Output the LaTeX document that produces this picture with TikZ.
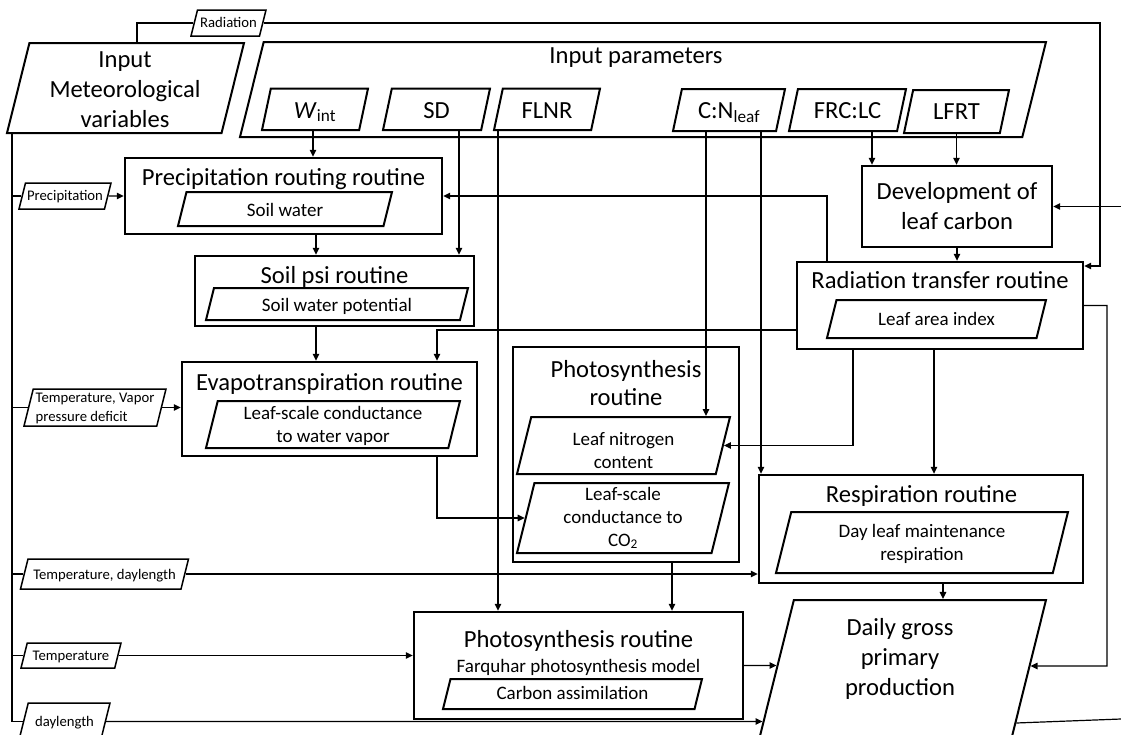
\documentclass[tikz,border=0pt]{standalone}
\usepackage{fontspec}
\setmainfont{Carlito}
\usetikzlibrary{arrows.meta,shapes.geometric}

\tikzset{
  rbox/.style={draw, line width=2.4pt, inner sep=0pt},
  para/.style={draw, trapezium, trapezium left angle=76, trapezium right angle=104, trapezium stretches body, inner sep=0pt},
  ph/.style 2 args={text height=#1pt, text depth=#2pt},
  inpara/.style={para, line width=2pt, font=\fontsize{19}{23}\selectfont},
  parbox/.style={para, line width=2pt, trapezium left angle=78, trapezium right angle=102, anchor=base, font=\fontsize{24.6}{29}\selectfont},
  lab/.style={para, line width=1.5pt, font=\fontsize{14.7}{18}\selectfont},
  ttl/.style={anchor=base, font=\fontsize{24.6}{29}\selectfont},
  intxt/.style={align=center, font=\fontsize{19}{23}\selectfont},
  bigtxt/.style={align=center, font=\fontsize{24.6}{30}\selectfont},
  conn/.style={line width=1.2pt},
  arr/.style={conn, -{Triangle[length=7pt,width=6.5pt]}},
}

\begin{document}
\begin{tikzpicture}[x=1pt, y=-1pt]
  \useasboundingbox (0,0) rectangle (1121,734);
  \clip (0,0) rectangle (1121,734);

  \node[para, line width=2pt, ph={45}{45}, minimum width=237] (inputmet) at (125.5,88) {};
  \node[bigtxt] (inputmettxt) at (125,90) {Input\\Meteorological\\variables};
  \node[para, line width=2pt, ph={47.5}{47.5}, minimum width=806] (inputpar) at (643,89.5) {};
  \node[ttl] (inputpartxt) at (636,63) {Input parameters};

  \node[parbox, ph={29.5}{12}, minimum width=106] (wint) at (315,118) {\textit{W}\textsubscript{int}};
  \node[parbox, ph={29.5}{12}, minimum width=107] (sd) at (436.5,118) {SD};
  \node[parbox, ph={29.5}{12}, minimum width=106] (flnr) at (547,118) {FLNR};
  \node[parbox, ph={29.5}{12.5}, minimum width=112] (cn) at (729,118.5) {C:N\textsubscript{leaf}};
  \node[parbox, ph={29.5}{12.5}, minimum width=117] (frc) at (847.5,118.5) {FRC:LC};
  \node[parbox, ph={29.5}{13.5}, minimum width=105] (lfrt) at (956.5,119.5) {LFRT};

  \node[lab, ph={17}{9}, anchor=base, minimum width=75] (radlab) at (228.5,27) {Radiation};
  \node[lab, ph={17}{9}, anchor=base, minimum width=92] (preclab) at (65,200) {Precipitation};
  \node[lab, ph={18.5}{18.5}, minimum width=142] (tvplab) at (95,407.5) {};
  \node[align=left, font=\fontsize{14.7}{19}\selectfont] (tvptxt) at (95,408.5) {Temperature, Vapor\\pressure deficit};
  \node[lab, ph={20}{10}, anchor=base, minimum width=168] (tdlab) at (104.5,579) {Temperature, daylength};
  \node[lab, ph={17}{8}, anchor=base, minimum width=100] (templab) at (71,660) {Temperature};
  \node[lab, ph={23}{14}, anchor=base, minimum width=91] (dllab) at (64.5,726) {daylength};

  \node[rbox, minimum width=317, minimum height=76] (precip) at (283.5,196) {};
  \node[ttl] (preciptxt) at (283.5,185) {Precipitation routing routine};
  \node[inpara, ph={24}{10}, anchor=base, minimum width=214] (soilw) at (285,216) {Soil water};

  \node[rbox, minimum width=279, minimum height=70] (soilpsi) at (334.5,291) {};
  \node[ttl] (soilpsitxt) at (334.5,283) {Soil psi routine};
  \node[inpara, ph={23}{9}, anchor=base, minimum width=262] (soilpot) at (337,311) {Soil water potential};

  \node[rbox, minimum width=295, minimum height=94] (evapo) at (329.5,409) {};
  \node[ttl] (evapotxt) at (329.5,390) {Evapotranspiration routine};
  \node[inpara, ph={23.5}{23.5}, minimum width=254] (lscw) at (333,424.5) {};
  \node[intxt] (lscwtxt) at (333,425.5) {Leaf-scale conductance\\to water vapor};

  \node[rbox, minimum width=190, minimum height=81, bigtxt] (dev) at (957,206.5) {Development of\\leaf carbon};

  \node[rbox, minimum width=286, minimum height=87] (radtr) at (940,305.5) {};
  \node[ttl] (radtrtxt) at (940,288) {Radiation transfer routine};
  \node[inpara, ph={25}{13}, anchor=base, minimum width=219] (lai) at (936.5,325) {Leaf area index};

  \node[rbox, minimum width=226, minimum height=215] (photomid) at (626,454.5) {};
  \node[bigtxt, font=\fontsize{24.6}{28}\selectfont] (photomidtxt) at (626,383.5) {Photosynthesis\\routine};
  \node[inpara, ph={28.5}{28.5}, minimum width=213] (lnc) at (623.5,445.5) {};
  \node[intxt] (lnctxt) at (623.5,451) {Leaf nitrogen\\content};
  \node[inpara, ph={35}{35}, minimum width=212] (lsco2) at (623,518) {};
  \node[intxt] (lsco2txt) at (623,518) {Leaf-scale\\conductance to\\CO\textsubscript{2}};

  \node[rbox, minimum width=329, minimum height=107] (photolow) at (578.5,665.5) {};
  \node[ttl] (photolowtxt) at (578.5,647) {Photosynthesis routine};
  \node[anchor=base, font=\fontsize{19}{23}\selectfont] (farq) at (578.5,672) {Farquhar photosynthesis model};
  \node[inpara, ph={20}{10}, anchor=base, minimum width=259] (carb) at (572.5,699) {Carbon assimilation};

  \node[rbox, minimum width=324, minimum height=108] (resp) at (921,529) {};
  \node[ttl] (resptxt) at (921.5,502) {Respiration routine};
  \node[inpara, ph={30.5}{30.5}, minimum width=292] (dlmr) at (922,542.5) {};
  \node[intxt] (dlmrtxt) at (922,544) {Day leaf maintenance\\respiration};

  \node[para, line width=2pt, ph={90}{90}, minimum width=297] (gpp) at (897.5,690) {};
  \node[bigtxt] (gpptxt) at (900,659) {Daily gross\\primary\\production};

  \coordinate (trunk) at (12,133);
  \coordinate (rbend) at (1100,266);
  \coordinate (rbend2) at (1107,666);
  \coordinate (devin) at (1121,206.5);
  \coordinate (gppout) at (1121,719);

  \draw[conn] (radlab.west) -| (137,0 |- inputmet.north);
  \draw[arr] (radlab.east) -| (rbend) -- (rbend -| radtr.east);
  \draw[conn] (trunk) |- (dllab.west);
  \draw[conn] (trunk |- preclab.west) -- (preclab.west);
  \draw[conn] (trunk |- tvplab.west) -- (tvplab.west);
  \draw[conn] (trunk |- tdlab.west) -- (tdlab.west);
  \draw[conn] (trunk |- templab.west) -- (templab.west);
  \draw[arr] (preclab.east) -- (precip.west);
  \draw[arr] (tvplab.east) -- (tvplab.east -| evapo.west);
  \draw[arr] (tdlab.east) -- (tdlab.east -| resp.west);
  \draw[arr] (templab.east) -- (templab.east -| photolow.west);
  \draw[arr] (dllab.east) -- (intersection of gpp.top left corner--gpp.bottom left corner and dllab.east--[xshift=100pt]dllab.east);

  \draw[arr] (313,0 |- wint.south) -- (313,0 |- precip.north);
  \draw[arr] (459,0 |- sd.south) -- (459,0 |- soilpsi.north);
  \draw[arr] (498,0 |- flnr.south) -- (498,0 |- photolow.north);
  \draw[arr] (706,0 |- cn.south) -- (706,0 |- lnc.north);
  \draw[arr] (761,0 |- cn.south) -- (761,0 |- resp.north);
  \draw[arr] (872,0 |- frc.south) -- (872,0 |- dev.north);
  \draw[arr] (lfrt.south) -- (lfrt.south |- dev.north);
  \draw[arr] (devin) -- (dev.east);
  \draw[arr] (dev.south) -- (dev.south |- radtr.north);

  \draw[arr] (827,0 |- radtr.north) |- (precip.east);
  \draw[arr] (radtr.west |- 0,330) -| (437,0 |- evapo.north);
  \draw[arr] (853,0 |- radtr.south) |- (lnc.east);
  \draw[arr] (934,0 |- radtr.south) -- (934,0 |- resp.north);
  \draw[arr] (radtr.east) -| (rbend2) -- (intersection of gpp.top right corner--gpp.bottom right corner and rbend2--[xshift=-100pt]rbend2);

  \draw[arr] (316,0 |- precip.south) -- (316,0 |- soilpsi.north);
  \draw[arr] (316,0 |- soilpsi.south) -- (316,0 |- evapo.north);
  \draw[arr] (437,0 |- evapo.south) |- (lsco2.west);
  \draw[arr] (672,0 |- photomid.south) -- (672,0 |- photolow.north);
  \draw[arr] (photolow.east) -- (intersection of gpp.top left corner--gpp.bottom left corner and photolow.east--[xshift=100pt]photolow.east);
  \draw[arr] (943,0 |- resp.south) -- (943,0 |- gpp.north);
  \draw[conn] (intersection of gpp.top right corner--gpp.bottom right corner and 0,723--1121,723) -- (gppout);
\end{tikzpicture}
\end{document}
